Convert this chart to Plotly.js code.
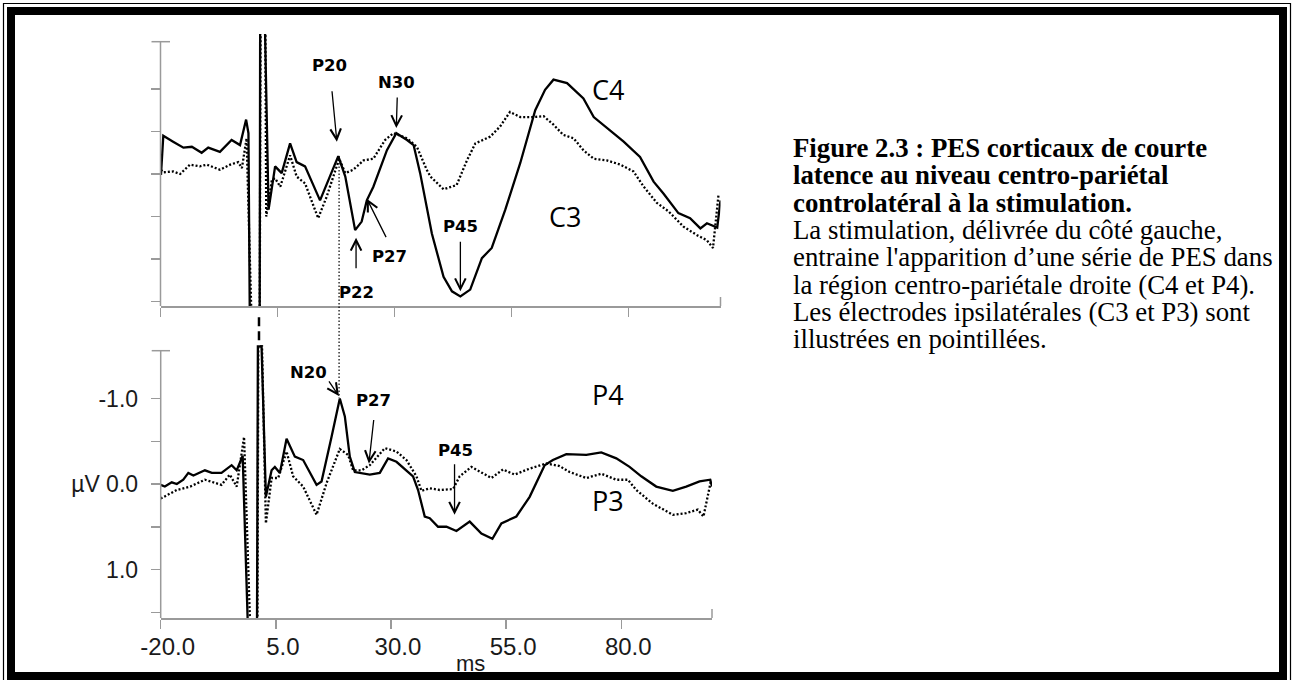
<!DOCTYPE html>
<html><head><meta charset="utf-8">
<script src="https://cdn.plot.ly/plotly-3.0.1.min.js"></script>
<style>html,body{margin:0;padding:0;background:#fff}#chart{width:1294px;height:680px}</style>
</head><body><div id="chart"></div>
<script>
// ---- data (ms, µV; negative up) ----
const c4T=[-19.9,-19.4,-17.3,-15.1,-13.3,-11.2,-9.8,-7.3,-4.8,-3.0,-1.7,-1.2,-0.9,1.2,1.3,2.3,3.1,4.5,5.9,7.7,9.1,10.9,14.1,18.0,19.5,21.6,23.0,24.1,25.5,28.4,30.4,32.7,34.1,35.5,38.0,40.5,42.3,44.1,46.2,48.7,50.8,53.7,56.9,60.1,62.2,64.0,66.9,70.4,72.6,75.4,79.0,82.5,85.4,87.5,90.7,93.2,95.4,96.8,99.0,99.7];
const c4V=[0.01,-0.45,-0.38,-0.31,-0.32,-0.25,-0.31,-0.26,-0.40,-0.34,-0.64,-0.48,1.8,1.8,-1.8,-1.8,0.42,-0.09,-0.01,-0.36,-0.14,-0.09,0.31,-0.21,0.03,0.66,0.56,0.31,0.15,-0.28,-0.48,-0.40,-0.34,-0.01,0.70,1.21,1.38,1.44,1.36,0.99,0.87,0.42,-0.13,-0.75,-0.99,-1.11,-1.07,-0.89,-0.67,-0.54,-0.38,-0.20,0.09,0.23,0.46,0.52,0.64,0.58,0.63,0.31];
const c3T=[-19.9,-19.4,-17.3,-15.8,-13.7,-11.6,-10.1,-7.3,-5.1,-3.4,-2.6,-1.6,-0.5,1.2,1.4,2.4,2.6,3.8,4.5,5.6,7.7,9.1,10.9,13.7,15.5,18.2,19.5,21.2,23.4,25.5,28.0,29.8,32.7,34.8,36.9,37.7,40.5,43.3,45.5,47.3,50.5,52.6,54.7,56.9,59.7,61.9,64.0,66.1,68.3,70.4,72.6,75.4,78.3,81.1,83.3,86.1,88.6,91.8,94.7,96.8,98.1,99.3];
const c3V=[-0.05,-0.02,-0.03,0.00,-0.11,-0.09,-0.11,-0.05,-0.11,-0.14,-0.07,-0.42,1.8,1.8,-1.8,-1.8,0.50,0.07,0.05,0.15,-0.22,0.03,0.11,0.52,0.27,-0.18,-0.01,-0.05,-0.16,-0.18,-0.40,-0.48,-0.42,-0.32,-0.05,0.03,0.18,0.13,-0.16,-0.36,-0.44,-0.56,-0.73,-0.67,-0.67,-0.68,-0.58,-0.46,-0.42,-0.28,-0.18,-0.16,-0.11,-0.03,0.15,0.34,0.44,0.62,0.72,0.78,0.87,0.23];
const p4T=[-20.0,-19.1,-17.6,-16.5,-15.1,-14.0,-12.9,-10.4,-8.9,-6.8,-4.6,-3.5,-2.2,-1.0,0.9,1.1,1.9,2.84,4.08,4.79,5.88,7.33,9.13,10.93,13.84,14.92,17.09,18.89,19.98,21.06,22.15,25.40,27.57,29.37,31.19,33.36,34.79,35.88,37.33,38.42,40.22,42.04,44.21,47.09,49.63,52.02,53.97,57.22,60.11,63.36,65.16,68.07,72.41,75.66,78.92,81.80,84.34,87.59,91.19,94.10,97.00,99.31,99.7];
const p4V=[0.01,0.03,-0.02,0.00,-0.05,-0.13,-0.10,-0.16,-0.13,-0.13,-0.22,-0.16,-0.33,1.8,1.8,-1.61,-1.61,0.15,-0.16,-0.20,-0.13,-0.53,-0.32,-0.28,0.01,-0.03,-0.55,-1.00,-0.79,-0.32,-0.14,-0.11,-0.13,-0.30,-0.26,-0.16,-0.09,0.07,0.38,0.40,0.50,0.50,0.55,0.44,0.58,0.64,0.46,0.38,0.15,-0.22,-0.28,-0.35,-0.34,-0.37,-0.30,-0.20,-0.09,0.03,0.08,0.03,-0.03,-0.05,0.03];
const p3T=[-20.0,-18.7,-16.5,-13.6,-10.4,-6.8,-5.0,-3.5,-1.9,-0.5,1.0,1.2,2.0,2.84,4.08,5.51,7.33,8.76,10.93,13.84,16.01,18.89,20.69,21.78,23.60,25.40,28.66,31.19,33.36,35.53,36.62,38.42,40.59,43.47,44.92,47.46,49.63,51.80,54.32,56.85,60.11,63.73,66.62,68.79,72.41,75.66,78.92,81.43,83.25,86.85,91.19,94.10,96.62,97.85,99.52];
const p3V=[0.17,0.13,0.07,0.03,-0.05,0.01,-0.11,0.03,-0.55,1.8,1.8,-1.61,-1.61,0.46,-0.07,-0.07,-0.38,-0.09,0.03,0.36,-0.01,-0.41,-0.34,-0.16,-0.16,-0.22,-0.42,-0.38,-0.28,-0.09,0.08,0.05,0.07,0.06,-0.09,-0.20,-0.13,-0.07,-0.17,-0.11,-0.18,-0.24,-0.21,-0.14,-0.07,-0.12,-0.05,-0.05,0.07,0.23,0.36,0.34,0.30,0.38,-0.05];
const stimT=[1.34,1.34];
const stimV=[-1.68,-2.01];

const xTicks=[-20,5,30,55,80];
const xTickText=['-20.0','5.0','30.0','55.0','80.0'];
const yTicks=[-1,-0.5,0,0.5,1,1.5];
const yTickText=['-1.0','','µV 0.0','','1.0',''];
const xTitle='ms';

// peak labels: [label, arrow-head ms, arrow-head µV, tail dx px, tail dy px]
const topPeaks=[['P20',17.7,-0.38,-5,-52],['N30',30.4,-0.54,1,-32],['P22',21.8,0.75,0,32],['P27',24.1,0.29,20,40],['P45',44.1,1.38,0,-51]];
const botPeaks=[['N20',18.7,-1.03,-11,-16],['P27',25.2,-0.24,5,-45],['P45',43.8,0.36,0,-52]];
const channelLabels=['C4','C3','P4','P3'];
const captionBold=['Figure 2.3 : PES corticaux de courte','latence au niveau centro-pariétal','controlatéral à la stimulation.'];
const captionText=['La stimulation, délivrée du côté gauche,',"entraine l'apparition d’une série de PES dans",'la région centro-pariétale droite (C4 et P4).','Les électrodes ipsilatérales (C3 et P3) sont','illustrées en pointillées.'];

// ---- layout helpers (pixel -> paper) ----
const W=1294,H=680;
const PX=v=>v/W, PY=v=>1-v/H;
const AX='#9a9a9a';

const solid={color:'#000',width:2.3};
const dotted={color:'#000',width:2.3,dash:'2px,2px'};
const traces=[
 {x:c4T,y:c4V,xaxis:'x',yaxis:'y',mode:'lines',line:solid,name:'C4'},
 {x:c3T,y:c3V,xaxis:'x',yaxis:'y',mode:'lines',line:dotted,name:'C3'},
 {x:p4T,y:p4V,xaxis:'x2',yaxis:'y2',mode:'lines',line:solid,name:'P4'},
 {x:p3T,y:p3V,xaxis:'x2',yaxis:'y2',mode:'lines',line:dotted,name:'P3'},
 {x:stimT,y:stimV,xaxis:'x2',yaxis:'y2',mode:'lines',line:{color:'#000',width:2.5,dash:'9px,5px'},name:'stim'}
];

const tickFont={family:'Liberation Sans, Arial, sans-serif',size:24,color:'#1a1a1a'};
const xcommon={range:[-20,99.7],tickvals:xTicks,ticks:'outside',ticklen:9,tickwidth:1.5,tickcolor:AX,
  showline:true,linecolor:AX,linewidth:1.5,showgrid:false,zeroline:false};
const ycommon={tickvals:yTicks,ticks:'outside',ticklen:9,tickwidth:1.5,tickcolor:AX,
  showline:false,showgrid:false,zeroline:false};

const layout={
 width:W,height:H,margin:{l:0,r:0,t:0,b:0},paper_bgcolor:'#fff',plot_bgcolor:'rgba(0,0,0,0)',showlegend:false,
 xaxis:Object.assign({},xcommon,{domain:[PX(160.5),PX(720.5)],anchor:'y',showticklabels:false}),
 yaxis:Object.assign({},ycommon,{domain:[PY(306),PY(34)],range:[(306-174)/85,(34-174)/85],anchor:'x',showticklabels:false}),
 xaxis2:Object.assign({},xcommon,{domain:[PX(160.7),PX(712)],anchor:'y2',ticktext:xTickText,tickfont:tickFont,ticklabelshift:7,ticklabelstandoff:-2}),
 yaxis2:Object.assign({},ycommon,{domain:[PY(618),PY(310)],range:[(618-484)/85.5,(310-484)/85.5],anchor:'x2',
   ticktext:yTickText,tickfont:Object.assign({},tickFont,{size:23}),ticklabelstandoff:8}),
 shapes:[
  {type:'rect',xref:'paper',yref:'paper',x0:PX(3.5),x1:PX(1290.5),y0:PY(3.5),y1:PY(700),line:{color:'#000',width:1.2}},
  {type:'rect',xref:'paper',yref:'paper',x0:PX(11),x1:PX(1283),y0:PY(11),y1:PY(676),line:{color:'#000',width:8}},
  {type:'line',xref:'paper',yref:'paper',x0:PX(160.5),x1:PX(160.5),y0:PY(41.7),y1:PY(306),line:{color:AX,width:1.5}},
  {type:'line',xref:'paper',yref:'paper',x0:PX(151.5),x1:PX(170),y0:PY(41.7),y1:PY(41.7),line:{color:AX,width:1.5}},
  {type:'line',xref:'paper',yref:'paper',x0:PX(720.5),x1:PX(720.5),y0:PY(297),y1:PY(306),line:{color:AX,width:1.5}},
  {type:'line',xref:'paper',yref:'paper',x0:PX(160.7),x1:PX(160.7),y0:PY(350.7),y1:PY(618),line:{color:AX,width:1.5}},
  {type:'line',xref:'paper',yref:'paper',x0:PX(151.7),x1:PX(170),y0:PY(350.7),y1:PY(350.7),line:{color:AX,width:1.5}},
  {type:'line',xref:'paper',yref:'paper',x0:PX(712),x1:PX(712),y0:PY(609),y1:PY(618),line:{color:AX,width:1.5}},
  {type:'line',xref:'x',yref:'paper',x0:18.17,x1:18.17,y0:PY(156),y1:PY(398),line:{color:'#000',width:1.2,dash:'1.5px,2px'}}
 ],
 annotations:[]
};

const ann=layout.annotations;
const lblFont={family:'DejaVu Sans, sans-serif',size:16.5,color:'#000'};
const bigFont={family:'Open Sans, sans-serif',size:27,color:'#000',weight:500};
// peak label text positions (px)
const topPeakPos=[[329.7,65.5],[396.7,82.5],[356.7,292.5],[389,256.7],[460.8,226.7]];
const botPeakPos=[[308.7,372],[373.7,400],[455.8,450]];
function arrow(p,xr,yr){
  ann.push({x:p[1],y:p[2],xref:xr,yref:yr,text:'',showarrow:true,ax:p[3],ay:p[4],
    arrowhead:5,arrowsize:1.6,arrowwidth:1.3,arrowcolor:'#000'});
}
topPeaks.forEach((p,i)=>{arrow(p,'x','y');
  ann.push({xref:'paper',yref:'paper',x:PX(topPeakPos[i][0]),y:PY(topPeakPos[i][1]),text:'<b>'+p[0]+'</b>',showarrow:false,font:lblFont,xanchor:'center',yanchor:'middle'});});
botPeaks.forEach((p,i)=>{arrow(p,'x2','y2');
  ann.push({xref:'paper',yref:'paper',x:PX(botPeakPos[i][0]),y:PY(botPeakPos[i][1]),text:'<b>'+p[0]+'</b>',showarrow:false,font:lblFont,xanchor:'center',yanchor:'middle'});});
const chPos=[[608.3,89.3],[565,216.7],[608.3,394.7],[608.3,500.8]];
channelLabels.forEach((c,i)=>ann.push({xref:'paper',yref:'paper',x:PX(chPos[i][0]),y:PY(chPos[i][1]),text:c,showarrow:false,font:bigFont,xanchor:'center',yanchor:'middle'}));
ann.push({xref:'paper',yref:'paper',x:PX(470),y:PY(663),text:xTitle,showarrow:false,font:{family:'Liberation Sans, Arial, sans-serif',size:22,color:'#1a1a1a'},xanchor:'center',yanchor:'middle'});

// caption: one text block; line pitch from the base size (21px*1.3 = 27.3px), glyphs at 26.8px
const capLines=captionBold.map(t=>'<b><span style="font-size:26.8px">'+t+'</span></b>')
  .concat(captionText.map(t=>'<span style="font-size:26.8px">'+t+'</span>'));
ann.push({xref:'paper',yref:'paper',x:PX(791),y:PY(243.5),text:capLines.join('<br>'),showarrow:false,
  font:{family:'Liberation Serif, Times New Roman, serif',size:21,color:'#000'},xanchor:'left',yanchor:'middle',align:'left'});

Plotly.newPlot('chart',traces,layout,{staticPlot:true});
</script></body></html>
